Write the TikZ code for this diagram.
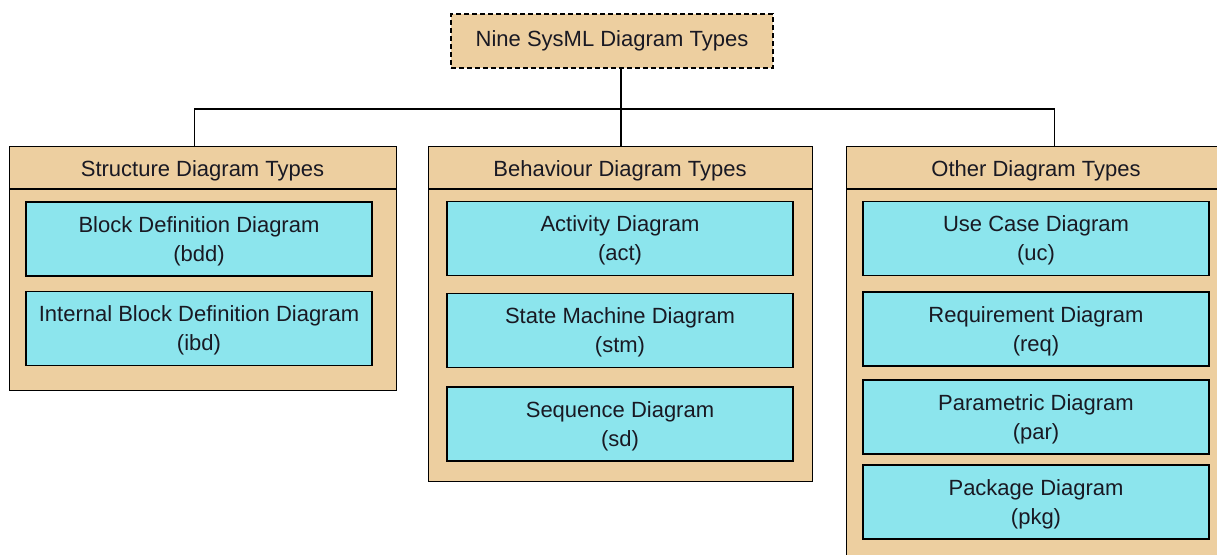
\documentclass[tikz,border=0pt]{standalone}
\usepackage{fontspec}
\setmainfont{Liberation Sans}
\usepackage{xcolor}
\usepackage{tikz}
\usetikzlibrary{calc}

\definecolor{pkgtan}{RGB}{237,207,160}
\definecolor{diagcyan}{RGB}{140,229,237}
\definecolor{inktext}{RGB}{25,25,35}

\begin{document}
\begin{tikzpicture}[x=1pt,y=-1pt,line width=1.4pt,
        font=\fontsize{22}{29}\selectfont,text=inktext,
        group/.style={draw,fill=pkgtan,anchor=north west,inner sep=0pt},
        diag/.style={draw,fill=diagcyan,minimum width=346pt,minimum height=74pt,
            inner sep=0pt,align=center}]
        % Frame:
        % The reference is cut off at the right and at the bottom, so fix the page and clip
        \useasboundingbox (0,0) rectangle (1217,554);
        \clip (0,0) rectangle (1217,554);

        % Root:
        \node [draw,dashed,dash pattern=on 5pt off 3pt,fill=pkgtan,
               minimum width=322pt,minimum height=54pt] (nine) at (612,41)
               {Nine SysML Diagram Types};

        % Groups:
        % Each group is a plain box; its title sits in a band closed by a line
        \node [group,minimum width=387pt,minimum height=244pt] (stru) at (9,146) {};
        \node [group,minimum width=384pt,minimum height=335pt] (behv) at (428,146) {};
        \node [group,minimum width=380pt,minimum height=417pt] (othr) at (846,146) {};

        \node (strutitle) at (202.5,171) {Structure Diagram Types};
        \node (behvtitle) at (620,171)   {Behaviour Diagram Types};
        \node (othrtitle) at (1036,171)  {Other Diagram Types};

        \foreach \g in {stru,behv,othr}{%
            \draw (\g.west |- 0,189) -- (\g.east |- 0,189);
        }

        % Diagram types:
        % The two text lines sit a little low in each box
        \begin{scope}[every node/.append style={diag,text depth=0pt}]
        \node (bdd) at (199,239)   {Block Definition Diagram\\(bdd)};
        \node (ibd) at (199,328.5) {Internal Block Definition Diagram\\(ibd)};

        \node (act) at (620,238.5) {Activity Diagram\\(act)};
        \node (stm) at (620,330.5) {State Machine Diagram\\(stm)};
        \node (sd)  at (620,424)   {Sequence Diagram\\(sd)};

        \node (uc)  at (1036,238.5) {Use Case Diagram\\(uc)};
        \node (req) at (1036,329)   {Requirement Diagram\\(req)};
        \node (par) at (1036,417)   {Parametric Diagram\\(par)};
        \node (pkg) at (1036,502)   {Package Diagram\\(pkg)};
        \end{scope}

        % Connectors:
        % One bus under the root, dropped onto the top of every group
        \coordinate (bus) at (621,109);
        \draw ([xshift=9pt]nine.south) -- (bus);
        \draw ([xshift=-8.5pt]stru.north) |- (bus) -| ([xshift=18pt]othr.north);
        \draw (bus) -- (bus |- behv.north);
\end{tikzpicture}
\end{document}
